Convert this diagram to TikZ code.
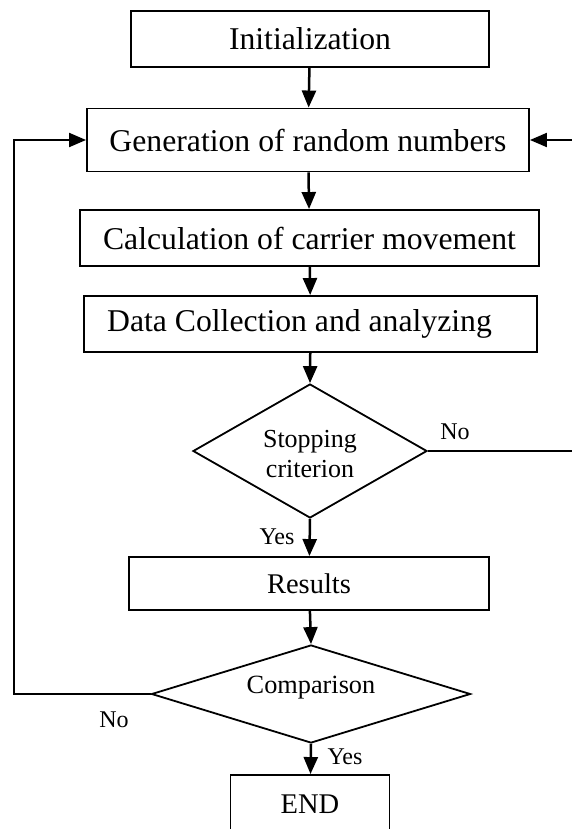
\documentclass[tikz,border=0pt]{standalone}
\usepackage{fontspec}
\setmainfont{Liberation Serif}
\usetikzlibrary{shapes.geometric,arrows.meta}
\begin{document}
\begin{tikzpicture}[x=1pt,y=-1pt,
  box/.style={draw, line width=1.9pt, rectangle, inner sep=0pt,
              font=\fontsize{31.7}{36}\selectfont},
  decision/.style={draw, line width=1.8pt, diamond, inner sep=0pt},
  flow/.style={line width=2.5pt, -{Triangle[length=17pt,width=14pt]}},
  loopline/.style={line width=2pt, -{Triangle[length=17pt,width=14pt]}},
  lbl/.style={font=\fontsize{24}{28}\selectfont, inner sep=0pt}]
\useasboundingbox (0,0) rectangle (572,829);
\clip (0,0) rectangle (572,829);

% process steps
\node[box, minimum width=358pt, minimum height=56pt] (init) at (310,39) {Initialization};
\node[box, minimum width=442pt, minimum height=63pt] (gen) at (308,140) {Generation of random numbers};
\node[box, minimum width=459pt, minimum height=56pt] (calc) at (309.5,238) {Calculation of carrier movement};
\node[box, minimum width=453pt, minimum height=56pt] (data) at (310.5,324) {Data Collection and analyzing\hspace*{22pt}};

% first decision
\node[decision, minimum width=234pt, minimum height=134pt] (stop) at (310,451) {};
\node[font=\fontsize{26}{30}\selectfont, anchor=base, inner sep=0pt] (stopa) at (310,447) {Stopping};
\node[font=\fontsize{26}{30}\selectfont, anchor=base, inner sep=0pt] (stopb) at (310,477) {criterion};

\node[box, minimum width=359.5pt, minimum height=53pt, font=\fontsize{28.5}{32}\selectfont] (res) at (309,583.5) {Results};

% second decision
\node[decision, minimum width=319pt, minimum height=98pt] (comp) at (311,694) {};
\node[font=\fontsize{26.3}{30}\selectfont, inner sep=0pt] (comptxt) at (311,688) {Comparison};

\node[box, minimum width=159pt, minimum height=58pt, font=\fontsize{28.5}{32}\selectfont] (end) at (310,804) {END};

% main flow
\draw[flow] (init) -- (gen);
\draw[flow] (gen) -- (calc);
\draw[flow] (calc) -- (data);
\draw[flow] (data) -- (stop.north);
\draw[flow] (stop.south) -- (res);
\draw[flow] (res) -- (comp.north);
\draw[flow] (comp.south) -- (end);

% feedback loops
\coordinate (rgt) at (576,0);
\coordinate (lft) at (14,0);
\draw[loopline] (stop.east) -- (stop.east -| rgt) |- (gen.east);
\draw[loopline] (comp.west) -- (comp.west -| lft) |- (gen.west);

% branch labels
\node[lbl] (noa) at (455,432) {No};
\node[lbl] (yesa) at (277,537) {Yes};
\node[lbl] (nob) at (114,720) {No};
\node[lbl] (yesb) at (345,757) {Yes};
\end{tikzpicture}
\end{document}
